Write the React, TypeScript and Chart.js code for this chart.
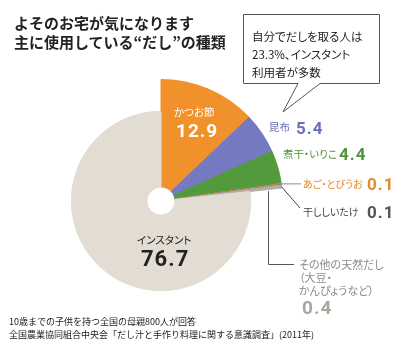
import React, { useEffect, useRef } from 'react';
import { Chart, registerables } from 'chart.js';

Chart.register(...registerables);

// ---- data ----
const categories = ['かつお節', '昆布', '煮干・いりこ', 'あご・とびうお', '干ししいたけ', 'その他の天然だし', 'インスタント'];
const shares = [12.9, 5.4, 4.4, 0.1, 0.1, 0.4, 76.7];
const valueLabels = ['12.9', '5.4', '4.4', '0.1', '0.1', '0.4', '76.7'];
const sliceColors = ['#F0912B', '#7579C1', '#529A3B', '#EE8A2A', '#7A7A7A', '#B3ADA5', '#E2DCD2'];
const titleLines = ['よそのお宅が気になります', '主に使用している“だし”の種類'];
const calloutLines = ['自分でだしを取る人は', '23.3%、インスタント', '利用者が多数'];
const noteLines = ['10歳までの子供を持つ全国の母親800人が回答', '全国農業協同組合中央会「だし汁と手作り料理に関する意識調査」(2011年)'];

const JP = '"Noto Sans CJK JP", "Noto Sans", sans-serif';
const NUM = 'Roboto, "Liberation Sans", sans-serif';

const outerColors = sliceColors.map((c, i) => (i === sliceColors.length - 1 ? 'rgba(0,0,0,0)' : c));

const leaderPlugin = {
  id: 'leaders',
  afterDatasetsDraw(chart: any) {
    const meta = chart.getDatasetMeta(0);
    const ctx = chart.ctx as CanvasRenderingContext2D;
    const pt = (i: number, rf: number) => {
      const a = meta.data[i];
      const p = a.getProps(['x', 'y', 'startAngle', 'endAngle', 'outerRadius'], true);
      const m = (p.startAngle + p.endAngle) / 2;
      const r = p.outerRadius * rf;
      return [p.x + Math.cos(m) * r, p.y + Math.sin(m) * r];
    };
    ctx.save();
    ctx.lineWidth = 1;
    // あご・とびうお
    let [x, y] = pt(3, 1);
    ctx.strokeStyle = '#8a8a8a';
    ctx.beginPath();
    ctx.moveTo(x, y);
    ctx.lineTo(301, y);
    ctx.stroke();
    // 干ししいたけ
    [x, y] = pt(4, 1);
    ctx.strokeStyle = '#444';
    ctx.beginPath();
    ctx.moveTo(x, y + 2);
    ctx.lineTo(300, 208);
    ctx.stroke();
    // その他
    [x, y] = pt(5, 0.89);
    ctx.strokeStyle = '#555';
    ctx.beginPath();
    ctx.moveTo(Math.round(x) + 0.5, y + 3);
    ctx.lineTo(Math.round(x) + 0.5, 264.5);
    ctx.lineTo(294, 264.5);
    ctx.stroke();
    ctx.restore();
  },
};

const abs = (left: number, top: number, extra: React.CSSProperties = {}): React.CSSProperties => ({
  position: 'absolute',
  left,
  top,
  whiteSpace: 'nowrap',
  lineHeight: 1,
  ...extra,
});

const palt: React.CSSProperties = { fontFeatureSettings: '"palt"' };

export default function App() {
  const ref = useRef<HTMLCanvasElement>(null);

  useEffect(() => {
    if (!ref.current) return;
    const chart = new Chart(ref.current, {
      type: 'doughnut',
      data: {
        labels: categories,
        datasets: [
          {
            data: shares,
            backgroundColor: outerColors,
            borderColor: outerColors,
            borderWidth: 1,
            weight: 32,
          },
          {
            data: shares,
            backgroundColor: sliceColors,
            borderColor: sliceColors,
            borderWidth: 1,
            weight: 76,
          },
        ],
      },
      options: {
        responsive: false,
        animation: false,
        devicePixelRatio: 1,
        cutout: 14,
        layout: { padding: { left: 39, right: 117, top: 79, bottom: 30 } },
        plugins: { legend: { display: false }, tooltip: { enabled: false } },
      },
      plugins: [leaderPlugin],
    });
    return () => chart.destroy();
  }, []);

  return (
    <div style={{ position: 'fixed', left: 0, top: 0, width: 400, height: 353, background: '#fff', overflow: 'hidden', fontFamily: JP }}>
      <canvas ref={ref} width={400} height={353} style={{ position: 'absolute', left: 0, top: 0, width: 400, height: 353 }} />

      {/* title */}
      <div style={abs(14, 13, { fontSize: 15, fontWeight: 700, lineHeight: '19px', color: '#222' })}>
        {titleLines.map((l) => (
          <div key={l}>{l}</div>
        ))}
      </div>

      {/* callout */}
      <svg width={400} height={353} style={{ position: 'absolute', left: 0, top: 0 }}>
        <path d="M243.5 14.5 H379.5 V83.5 H320 L283 112 L298 83.5 H243.5 Z" fill="#fff" stroke="#555" strokeWidth={1} />
      </svg>
      <div style={abs(252, 27, { fontSize: 11.5, lineHeight: '18px', color: '#222', ...palt })}>
        {calloutLines.map((l) => (
          <div key={l}>{l}</div>
        ))}
      </div>

      {/* inside labels */}
      <div style={abs(174, 107, { fontSize: 10.5, color: '#fff', ...palt })}>{categories[0]}</div>
      <div style={abs(176, 121, { fontSize: 19, fontWeight: 700, color: '#fff', fontFamily: NUM, letterSpacing: 1 })}>{valueLabels[0]}</div>
      <div style={abs(137, 235, { fontSize: 10.5, color: '#222', ...palt })}>{categories[6]}</div>
      <div style={abs(141, 248, { fontSize: 22, fontWeight: 700, color: '#222', fontFamily: NUM, letterSpacing: 1 })}>{valueLabels[6]}</div>

      {/* right labels */}
      <div style={abs(269, 122, { fontSize: 10.5, color: '#6B70B5', ...palt })}>{categories[1]}</div>
      <div style={abs(296, 120, { fontSize: 17, fontWeight: 700, color: '#6B70B5', fontFamily: NUM, letterSpacing: 1 })}>{valueLabels[1]}</div>

      <div style={abs(283, 149, { fontSize: 10.5, color: '#4F933A', ...palt })}>{categories[2]}</div>
      <div style={abs(339, 146, { fontSize: 17, fontWeight: 700, color: '#4F933A', fontFamily: NUM, letterSpacing: 1 })}>{valueLabels[2]}</div>

      <div style={abs(303, 179, { fontSize: 10, color: '#E8892A', ...palt })}>{categories[3]}</div>
      <div style={abs(367, 176, { fontSize: 17, fontWeight: 700, color: '#E8892A', fontFamily: NUM, letterSpacing: 1 })}>{valueLabels[3]}</div>

      <div style={abs(303, 207, { fontSize: 10, color: '#444', ...palt })}>{categories[4]}</div>
      <div style={abs(367, 204, { fontSize: 17, fontWeight: 700, color: '#555', fontFamily: NUM, letterSpacing: 1 })}>{valueLabels[4]}</div>

      <div style={abs(299, 258, { fontSize: 11, lineHeight: '13px', color: '#8F8A84', ...palt })}>
        <div>{categories[5]}</div>
        <div>（大豆・</div>
        <div>かんぴょうなど）</div>
      </div>
      <div style={abs(302, 298, { fontSize: 19, fontWeight: 700, color: '#ABA59D', fontFamily: NUM, letterSpacing: 1 })}>{valueLabels[5]}</div>

      {/* notes */}
      <div style={abs(9, 315, { fontSize: 9, lineHeight: '13px', color: '#222' })}>
        {noteLines.map((l) => (
          <div key={l}>{l}</div>
        ))}
      </div>
    </div>
  );
}
